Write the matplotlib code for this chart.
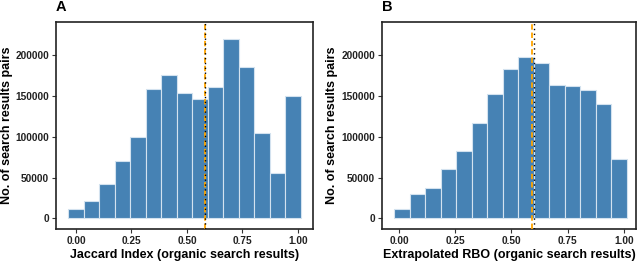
import numpy as np
import matplotlib.pyplot as plt

plt.rcParams['font.family'] = ['Liberation Sans', 'DejaVu Sans']

# histogram counts (15 bins each)
jaccard_counts = [11400, 20800, 42000, 70200, 100000, 158800, 176000, 153500,
                  146500, 161000, 219600, 185000, 105000, 55000, 149400]
rbo_counts = [11800, 29800, 36700, 60800, 82400, 117000, 152700, 182400,
              198000, 190000, 163000, 161600, 156700, 140000, 73000]

# bin layout: first bin centre and bin width
jaccard_start, jaccard_width = 0.0, 0.0699
rbo_start, rbo_width = 0.0125, 0.069

# reference lines (mean / median)
jaccard_lines = [0.582, 0.582]
rbo_lines = [0.593, 0.599]

xticks = [0.0, 0.25, 0.5, 0.75, 1.0]
xticklabels = ['0.00', '0.25', '0.50', '0.75', '1.00']
yticks = [0, 50000, 100000, 150000, 200000]

fig = plt.figure(figsize=(6.4, 2.79), dpi=100)
axA = fig.add_axes([0.0875, 0.179, 0.4015, 0.742])
axB = fig.add_axes([0.597, 0.179, 0.397, 0.742])


def draw(ax, counts, start, width, lines, xlabel, xlim, tag, ylab_x):
    centers = start + width * np.arange(len(counts))
    ax.bar(centers, counts, width=width, color='#4682B4',
           edgecolor='#d3e2ef', linewidth=0.8, zorder=2)
    ax.axvline(lines[0], color='#FFA500', linestyle=(0, (3, 1.6)),
               linewidth=1.3, zorder=3)
    ax.axvline(lines[1], color='black', linestyle=(0, (1, 2.5)),
               linewidth=1.0, zorder=4)
    ax.set_xlim(*xlim)
    ax.set_ylim(-13100, 240400)
    ax.set_xticks(xticks)
    ax.set_xticklabels(xticklabels)
    ax.set_yticks(yticks)
    ax.set_yticklabels([str(v) for v in yticks])
    for s in ax.spines.values():
        s.set_linewidth(1.2)
        s.set_color('#222222')
    ax.tick_params(length=3, width=0.8, color='#333333', labelsize=7.3,
                   pad=2)
    for lab in ax.get_xticklabels() + ax.get_yticklabels():
        lab.set_fontweight('bold')
        lab.set_color('#222222')
    ax.set_xlabel(xlabel, fontsize=9.0, fontweight='bold', labelpad=2)
    fig.text(ylab_x / 640, 0.552, 'No. of search results pairs', fontsize=9.0,
             fontweight='bold', rotation=90, ha='center', va='center')
    ax.text(0.0, 1.04, tag, transform=ax.transAxes, fontsize=10.5,
            fontweight='bold', ha='left', va='bottom')


draw(axA, jaccard_counts, jaccard_start, jaccard_width, jaccard_lines,
     'Jaccard Index (organic search results)', (-0.090, 1.0676), 'A', 7)
draw(axB, rbo_counts, rbo_start, rbo_width, rbo_lines,
     'Extrapolated RBO (organic search results)', (-0.0757, 1.0548), 'B', 332)

fig.savefig('out.png', dpi=100)
